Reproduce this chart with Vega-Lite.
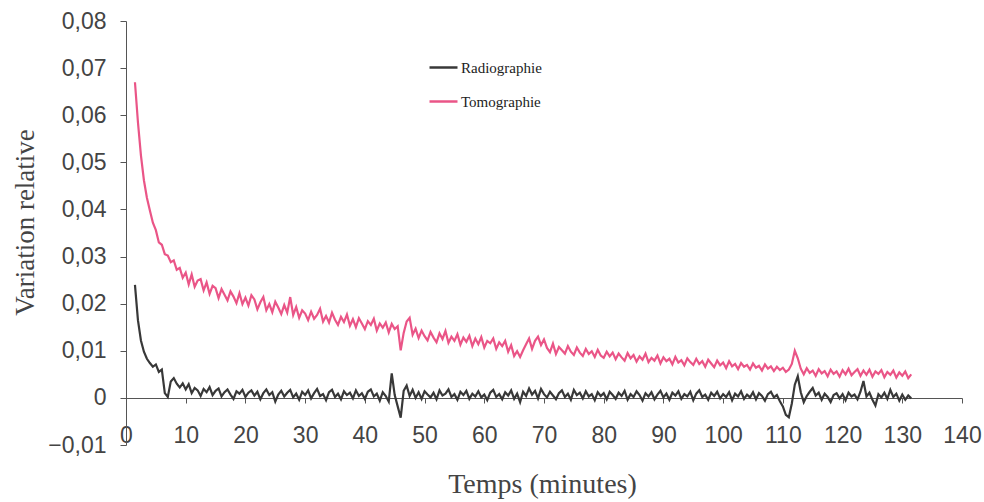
{
  "$schema": "https://vega.github.io/schema/vega-lite/v6.json",
  "width": 836,
  "height": 424,
  "autosize": "none",
  "padding": {"left": 126, "top": 21, "right": 22, "bottom": 57},
  "background": "white",
  "config": {
    "view": {"stroke": null},
    "axis": {"grid": false, "domainColor": "#555", "tickColor": "#555", "labelColor": "#444", "labelFont": "Liberation Sans", "labelFontSize": 23, "titleFont": "Liberation Serif", "titleFontSize": 28, "titleFontWeight": "normal", "titleColor": "#444"}
  },
  "data": {"values": [
{"t":1.5,"Radiographie":0.0240,"Tomographie":0.0670},
{"t":2.0,"Radiographie":0.0165,"Tomographie":0.0585},
{"t":2.5,"Radiographie":0.0122,"Tomographie":0.0515},
{"t":3.0,"Radiographie":0.0098,"Tomographie":0.0462},
{"t":3.5,"Radiographie":0.0083,"Tomographie":0.0425},
{"t":4.0,"Radiographie":0.0074,"Tomographie":0.0398},
{"t":4.5,"Radiographie":0.0066,"Tomographie":0.0372},
{"t":5.0,"Radiographie":0.0071,"Tomographie":0.0356},
{"t":5.5,"Radiographie":0.0055,"Tomographie":0.0330},
{"t":6.0,"Radiographie":0.0060,"Tomographie":0.0325},
{"t":6.5,"Radiographie":0.0010,"Tomographie":0.0305},
{"t":7.0,"Radiographie":0.0002,"Tomographie":0.0302},
{"t":7.5,"Radiographie":0.0035,"Tomographie":0.0288},
{"t":8.0,"Radiographie":0.0042,"Tomographie":0.0292},
{"t":8.5,"Radiographie":0.0030,"Tomographie":0.0272},
{"t":9.0,"Radiographie":0.0022,"Tomographie":0.0276},
{"t":9.5,"Radiographie":0.0031,"Tomographie":0.0255},
{"t":10.0,"Radiographie":0.0018,"Tomographie":0.0266},
{"t":10.5,"Radiographie":0.0029,"Tomographie":0.0241},
{"t":11.0,"Radiographie":0.0010,"Tomographie":0.0262},
{"t":11.5,"Radiographie":0.0021,"Tomographie":0.0236},
{"t":12.0,"Radiographie":0.0016,"Tomographie":0.0249},
{"t":12.5,"Radiographie":0.0004,"Tomographie":0.0252},
{"t":13.0,"Radiographie":0.0019,"Tomographie":0.0228},
{"t":13.5,"Radiographie":0.0012,"Tomographie":0.0245},
{"t":14.0,"Radiographie":0.0023,"Tomographie":0.0221},
{"t":14.5,"Radiographie":0.0006,"Tomographie":0.0238},
{"t":15.0,"Radiographie":0.0015,"Tomographie":0.0233},
{"t":15.5,"Radiographie":0.0020,"Tomographie":0.0212},
{"t":16.0,"Radiographie":0.0003,"Tomographie":0.0231},
{"t":16.5,"Radiographie":0.0012,"Tomographie":0.0219},
{"t":17.0,"Radiographie":0.0018,"Tomographie":0.0207},
{"t":17.5,"Radiographie":0.0007,"Tomographie":0.0226},
{"t":18.0,"Radiographie":-0.0002,"Tomographie":0.0215},
{"t":18.5,"Radiographie":0.0014,"Tomographie":0.0201},
{"t":19.0,"Radiographie":0.0009,"Tomographie":0.0222},
{"t":19.5,"Radiographie":0.0017,"Tomographie":0.0199},
{"t":20.0,"Radiographie":0.0002,"Tomographie":0.0213},
{"t":20.5,"Radiographie":0.0011,"Tomographie":0.0196},
{"t":21.0,"Radiographie":0.0016,"Tomographie":0.0218},
{"t":21.5,"Radiographie":0.0005,"Tomographie":0.0209},
{"t":22.0,"Radiographie":0.0013,"Tomographie":0.0188},
{"t":22.5,"Radiographie":-0.0003,"Tomographie":0.0203},
{"t":23.0,"Radiographie":0.0010,"Tomographie":0.0214},
{"t":23.5,"Radiographie":0.0018,"Tomographie":0.0186},
{"t":24.0,"Radiographie":0.0006,"Tomographie":0.0199},
{"t":24.5,"Radiographie":0.0012,"Tomographie":0.0182},
{"t":25.0,"Radiographie":-0.0008,"Tomographie":0.0204},
{"t":25.5,"Radiographie":0.0007,"Tomographie":0.0192},
{"t":26.0,"Radiographie":0.0015,"Tomographie":0.0178},
{"t":26.5,"Radiographie":0.0003,"Tomographie":0.0197},
{"t":27.0,"Radiographie":0.0011,"Tomographie":0.0181},
{"t":27.5,"Radiographie":0.0017,"Tomographie":0.0214},
{"t":28.0,"Radiographie":0.0001,"Tomographie":0.0176},
{"t":28.5,"Radiographie":0.0009,"Tomographie":0.0193},
{"t":29.0,"Radiographie":-0.0004,"Tomographie":0.0170},
{"t":29.5,"Radiographie":0.0013,"Tomographie":0.0186},
{"t":30.0,"Radiographie":0.0006,"Tomographie":0.0179},
{"t":30.5,"Radiographie":0.0016,"Tomographie":0.0165},
{"t":31.0,"Radiographie":-0.0001,"Tomographie":0.0183},
{"t":31.5,"Radiographie":0.0010,"Tomographie":0.0168},
{"t":32.0,"Radiographie":0.0019,"Tomographie":0.0176},
{"t":32.5,"Radiographie":0.0004,"Tomographie":0.0189},
{"t":33.0,"Radiographie":0.0008,"Tomographie":0.0162},
{"t":33.5,"Radiographie":-0.0005,"Tomographie":0.0174},
{"t":34.0,"Radiographie":0.0012,"Tomographie":0.0160},
{"t":34.5,"Radiographie":0.0017,"Tomographie":0.0181},
{"t":35.0,"Radiographie":0.0002,"Tomographie":0.0166},
{"t":35.5,"Radiographie":0.0009,"Tomographie":0.0155},
{"t":36.0,"Radiographie":-0.0003,"Tomographie":0.0172},
{"t":36.5,"Radiographie":0.0014,"Tomographie":0.0161},
{"t":37.0,"Radiographie":0.0006,"Tomographie":0.0177},
{"t":37.5,"Radiographie":0.0011,"Tomographie":0.0153},
{"t":38.0,"Radiographie":-0.0001,"Tomographie":0.0167},
{"t":38.5,"Radiographie":0.0016,"Tomographie":0.0150},
{"t":39.0,"Radiographie":0.0004,"Tomographie":0.0169},
{"t":39.5,"Radiographie":0.0010,"Tomographie":0.0158},
{"t":40.0,"Radiographie":-0.0002,"Tomographie":0.0146},
{"t":40.5,"Radiographie":0.0013,"Tomographie":0.0163},
{"t":41.0,"Radiographie":0.0018,"Tomographie":0.0155},
{"t":41.5,"Radiographie":0.0003,"Tomographie":0.0168},
{"t":42.0,"Radiographie":0.0009,"Tomographie":0.0143},
{"t":42.5,"Radiographie":-0.0006,"Tomographie":0.0158},
{"t":43.0,"Radiographie":0.0012,"Tomographie":0.0149},
{"t":43.5,"Radiographie":0.0004,"Tomographie":0.0160},
{"t":44.0,"Radiographie":-0.0008,"Tomographie":0.0139},
{"t":44.5,"Radiographie":0.0052,"Tomographie":0.0157},
{"t":45.0,"Radiographie":0.0006,"Tomographie":0.0146},
{"t":45.5,"Radiographie":-0.0018,"Tomographie":0.0152},
{"t":46.0,"Radiographie":-0.0042,"Tomographie":0.0101},
{"t":46.5,"Radiographie":0.0015,"Tomographie":0.0138},
{"t":47.0,"Radiographie":0.0026,"Tomographie":0.0162},
{"t":47.5,"Radiographie":0.0004,"Tomographie":0.0170},
{"t":48.0,"Radiographie":0.0017,"Tomographie":0.0134},
{"t":48.5,"Radiographie":0.0000,"Tomographie":0.0147},
{"t":49.0,"Radiographie":0.0012,"Tomographie":0.0127},
{"t":49.5,"Radiographie":-0.0002,"Tomographie":0.0143},
{"t":50.0,"Radiographie":0.0014,"Tomographie":0.0131},
{"t":50.5,"Radiographie":0.0007,"Tomographie":0.0122},
{"t":51.0,"Radiographie":0.0001,"Tomographie":0.0140},
{"t":51.5,"Radiographie":0.0011,"Tomographie":0.0128},
{"t":52.0,"Radiographie":-0.0003,"Tomographie":0.0118},
{"t":52.5,"Radiographie":0.0016,"Tomographie":0.0137},
{"t":53.0,"Radiographie":0.0005,"Tomographie":0.0125},
{"t":53.5,"Radiographie":0.0009,"Tomographie":0.0142},
{"t":54.0,"Radiographie":0.0018,"Tomographie":0.0117},
{"t":54.5,"Radiographie":0.0002,"Tomographie":0.0130},
{"t":55.0,"Radiographie":0.0008,"Tomographie":0.0121},
{"t":55.5,"Radiographie":-0.0004,"Tomographie":0.0135},
{"t":56.0,"Radiographie":0.0013,"Tomographie":0.0113},
{"t":56.5,"Radiographie":0.0006,"Tomographie":0.0128},
{"t":57.0,"Radiographie":0.0015,"Tomographie":0.0119},
{"t":57.5,"Radiographie":-0.0002,"Tomographie":0.0132},
{"t":58.0,"Radiographie":0.0009,"Tomographie":0.0110},
{"t":58.5,"Radiographie":0.0003,"Tomographie":0.0126},
{"t":59.0,"Radiographie":0.0014,"Tomographie":0.0114},
{"t":59.5,"Radiographie":0.0001,"Tomographie":0.0129},
{"t":60.0,"Radiographie":0.0007,"Tomographie":0.0107},
{"t":60.5,"Radiographie":-0.0005,"Tomographie":0.0121},
{"t":61.0,"Radiographie":0.0011,"Tomographie":0.0116},
{"t":61.5,"Radiographie":0.0017,"Tomographie":0.0126},
{"t":62.0,"Radiographie":0.0002,"Tomographie":0.0104},
{"t":62.5,"Radiographie":0.0008,"Tomographie":0.0118},
{"t":63.0,"Radiographie":-0.0003,"Tomographie":0.0110},
{"t":63.5,"Radiographie":0.0012,"Tomographie":0.0121},
{"t":64.0,"Radiographie":0.0005,"Tomographie":0.0098},
{"t":64.5,"Radiographie":0.0016,"Tomographie":0.0112},
{"t":65.0,"Radiographie":-0.0002,"Tomographie":0.0089},
{"t":65.5,"Radiographie":0.0009,"Tomographie":0.0099},
{"t":66.0,"Radiographie":-0.0009,"Tomographie":0.0087},
{"t":66.5,"Radiographie":0.0013,"Tomographie":0.0101},
{"t":67.0,"Radiographie":0.0004,"Tomographie":0.0114},
{"t":67.5,"Radiographie":0.0020,"Tomographie":0.0126},
{"t":68.0,"Radiographie":0.0007,"Tomographie":0.0104},
{"t":68.5,"Radiographie":0.0015,"Tomographie":0.0121},
{"t":69.0,"Radiographie":-0.0001,"Tomographie":0.0130},
{"t":69.5,"Radiographie":0.0019,"Tomographie":0.0112},
{"t":70.0,"Radiographie":0.0008,"Tomographie":0.0124},
{"t":70.5,"Radiographie":0.0001,"Tomographie":0.0106},
{"t":71.0,"Radiographie":0.0013,"Tomographie":0.0097},
{"t":71.5,"Radiographie":0.0005,"Tomographie":0.0115},
{"t":72.0,"Radiographie":-0.0003,"Tomographie":0.0093},
{"t":72.5,"Radiographie":0.0010,"Tomographie":0.0108},
{"t":73.0,"Radiographie":0.0016,"Tomographie":0.0101},
{"t":73.5,"Radiographie":0.0002,"Tomographie":0.0094},
{"t":74.0,"Radiographie":0.0009,"Tomographie":0.0110},
{"t":74.5,"Radiographie":-0.0004,"Tomographie":0.0098},
{"t":75.0,"Radiographie":0.0017,"Tomographie":0.0091},
{"t":75.5,"Radiographie":0.0006,"Tomographie":0.0107},
{"t":76.0,"Radiographie":0.0011,"Tomographie":0.0096},
{"t":76.5,"Radiographie":-0.0001,"Tomographie":0.0089},
{"t":77.0,"Radiographie":0.0014,"Tomographie":0.0104},
{"t":77.5,"Radiographie":0.0003,"Tomographie":0.0093},
{"t":78.0,"Radiographie":0.0008,"Tomographie":0.0099},
{"t":78.5,"Radiographie":-0.0005,"Tomographie":0.0087},
{"t":79.0,"Radiographie":0.0012,"Tomographie":0.0102},
{"t":79.5,"Radiographie":0.0004,"Tomographie":0.0090},
{"t":80.0,"Radiographie":0.0010,"Tomographie":0.0085},
{"t":80.5,"Radiographie":-0.0003,"Tomographie":0.0098},
{"t":81.0,"Radiographie":0.0013,"Tomographie":0.0088},
{"t":81.5,"Radiographie":0.0006,"Tomographie":0.0096},
{"t":82.0,"Radiographie":-0.0002,"Tomographie":0.0082},
{"t":82.5,"Radiographie":0.0011,"Tomographie":0.0094},
{"t":83.0,"Radiographie":0.0004,"Tomographie":0.0086},
{"t":83.5,"Radiographie":0.0015,"Tomographie":0.0079},
{"t":84.0,"Radiographie":-0.0004,"Tomographie":0.0095},
{"t":84.5,"Radiographie":0.0008,"Tomographie":0.0084},
{"t":85.0,"Radiographie":0.0002,"Tomographie":0.0091},
{"t":85.5,"Radiographie":0.0014,"Tomographie":0.0077},
{"t":86.0,"Radiographie":0.0006,"Tomographie":0.0088},
{"t":86.5,"Radiographie":-0.0006,"Tomographie":0.0081},
{"t":87.0,"Radiographie":0.0010,"Tomographie":0.0094},
{"t":87.5,"Radiographie":0.0003,"Tomographie":0.0076},
{"t":88.0,"Radiographie":0.0012,"Tomographie":0.0085},
{"t":88.5,"Radiographie":-0.0003,"Tomographie":0.0079},
{"t":89.0,"Radiographie":0.0007,"Tomographie":0.0090},
{"t":89.5,"Radiographie":0.0015,"Tomographie":0.0073},
{"t":90.0,"Radiographie":0.0001,"Tomographie":0.0086},
{"t":90.5,"Radiographie":0.0009,"Tomographie":0.0078},
{"t":91.0,"Radiographie":-0.0004,"Tomographie":0.0083},
{"t":91.5,"Radiographie":0.0011,"Tomographie":0.0071},
{"t":92.0,"Radiographie":0.0005,"Tomographie":0.0087},
{"t":92.5,"Radiographie":0.0014,"Tomographie":0.0075},
{"t":93.0,"Radiographie":-0.0002,"Tomographie":0.0080},
{"t":93.5,"Radiographie":0.0008,"Tomographie":0.0069},
{"t":94.0,"Radiographie":0.0003,"Tomographie":0.0084},
{"t":94.5,"Radiographie":0.0013,"Tomographie":0.0076},
{"t":95.0,"Radiographie":-0.0005,"Tomographie":0.0070},
{"t":95.5,"Radiographie":0.0009,"Tomographie":0.0083},
{"t":96.0,"Radiographie":0.0016,"Tomographie":0.0072},
{"t":96.5,"Radiographie":0.0002,"Tomographie":0.0078},
{"t":97.0,"Radiographie":0.0007,"Tomographie":0.0066},
{"t":97.5,"Radiographie":-0.0004,"Tomographie":0.0081},
{"t":98.0,"Radiographie":0.0011,"Tomographie":0.0073},
{"t":98.5,"Radiographie":0.0004,"Tomographie":0.0065},
{"t":99.0,"Radiographie":0.0013,"Tomographie":0.0079},
{"t":99.5,"Radiographie":-0.0001,"Tomographie":0.0069},
{"t":100.0,"Radiographie":0.0008,"Tomographie":0.0075},
{"t":100.5,"Radiographie":0.0002,"Tomographie":0.0063},
{"t":101.0,"Radiographie":0.0012,"Tomographie":0.0078},
{"t":101.5,"Radiographie":-0.0005,"Tomographie":0.0067},
{"t":102.0,"Radiographie":0.0009,"Tomographie":0.0072},
{"t":102.5,"Radiographie":0.0003,"Tomographie":0.0061},
{"t":103.0,"Radiographie":0.0014,"Tomographie":0.0074},
{"t":103.5,"Radiographie":-0.0002,"Tomographie":0.0066},
{"t":104.0,"Radiographie":0.0007,"Tomographie":0.0070},
{"t":104.5,"Radiographie":0.0001,"Tomographie":0.0060},
{"t":105.0,"Radiographie":0.0012,"Tomographie":0.0073},
{"t":105.5,"Radiographie":-0.0003,"Tomographie":0.0064},
{"t":106.0,"Radiographie":0.0010,"Tomographie":0.0068},
{"t":106.5,"Radiographie":0.0004,"Tomographie":0.0058},
{"t":107.0,"Radiographie":-0.0006,"Tomographie":0.0071},
{"t":107.5,"Radiographie":0.0008,"Tomographie":0.0062},
{"t":108.0,"Radiographie":0.0013,"Tomographie":0.0067},
{"t":108.5,"Radiographie":0.0001,"Tomographie":0.0057},
{"t":109.0,"Radiographie":0.0006,"Tomographie":0.0066},
{"t":109.5,"Radiographie":-0.0007,"Tomographie":0.0059},
{"t":110.0,"Radiographie":-0.0018,"Tomographie":0.0064},
{"t":110.5,"Radiographie":-0.0036,"Tomographie":0.0055},
{"t":111.0,"Radiographie":-0.0041,"Tomographie":0.0060},
{"t":111.5,"Radiographie":-0.0012,"Tomographie":0.0072},
{"t":112.0,"Radiographie":0.0028,"Tomographie":0.0100},
{"t":112.5,"Radiographie":0.0046,"Tomographie":0.0084},
{"t":113.0,"Radiographie":0.0012,"Tomographie":0.0062},
{"t":113.5,"Radiographie":-0.0009,"Tomographie":0.0050},
{"t":114.0,"Radiographie":0.0004,"Tomographie":0.0063},
{"t":114.5,"Radiographie":0.0013,"Tomographie":0.0053},
{"t":115.0,"Radiographie":0.0021,"Tomographie":0.0058},
{"t":115.5,"Radiographie":0.0005,"Tomographie":0.0047},
{"t":116.0,"Radiographie":0.0011,"Tomographie":0.0061},
{"t":116.5,"Radiographie":-0.0004,"Tomographie":0.0052},
{"t":117.0,"Radiographie":0.0009,"Tomographie":0.0057},
{"t":117.5,"Radiographie":0.0002,"Tomographie":0.0046},
{"t":118.0,"Radiographie":-0.0009,"Tomographie":0.0060},
{"t":118.5,"Radiographie":0.0006,"Tomographie":0.0051},
{"t":119.0,"Radiographie":0.0010,"Tomographie":0.0056},
{"t":119.5,"Radiographie":-0.0001,"Tomographie":0.0045},
{"t":120.0,"Radiographie":0.0008,"Tomographie":0.0059},
{"t":120.5,"Radiographie":-0.0005,"Tomographie":0.0050},
{"t":121.0,"Radiographie":0.0011,"Tomographie":0.0062},
{"t":121.5,"Radiographie":0.0003,"Tomographie":0.0048},
{"t":122.0,"Radiographie":0.0007,"Tomographie":0.0055},
{"t":122.5,"Radiographie":-0.0003,"Tomographie":0.0061},
{"t":123.0,"Radiographie":0.0013,"Tomographie":0.0047},
{"t":123.5,"Radiographie":0.0036,"Tomographie":0.0058},
{"t":124.0,"Radiographie":0.0003,"Tomographie":0.0049},
{"t":124.5,"Radiographie":0.0011,"Tomographie":0.0060},
{"t":125.0,"Radiographie":-0.0004,"Tomographie":0.0045},
{"t":125.5,"Radiographie":-0.0016,"Tomographie":0.0056},
{"t":126.0,"Radiographie":0.0008,"Tomographie":0.0051},
{"t":126.5,"Radiographie":0.0001,"Tomographie":0.0059},
{"t":127.0,"Radiographie":0.0011,"Tomographie":0.0044},
{"t":127.5,"Radiographie":-0.0002,"Tomographie":0.0055},
{"t":128.0,"Radiographie":0.0017,"Tomographie":0.0049},
{"t":128.5,"Radiographie":0.0002,"Tomographie":0.0058},
{"t":129.0,"Radiographie":0.0009,"Tomographie":0.0043},
{"t":129.5,"Radiographie":-0.0006,"Tomographie":0.0054},
{"t":130.0,"Radiographie":0.0007,"Tomographie":0.0047},
{"t":130.5,"Radiographie":-0.0004,"Tomographie":0.0056},
{"t":131.0,"Radiographie":0.0005,"Tomographie":0.0042},
{"t":131.5,"Radiographie":-0.0001,"Tomographie":0.0050}
  ]},
  "transform": [{"fold": ["Radiographie", "Tomographie"], "as": ["serie", "v"]}],
  "mark": {"type": "line", "strokeWidth": 2.2, "interpolate": "linear"},
  "encoding": {
    "x": {"field": "t", "type": "quantitative",
      "scale": {"domain": [0, 140], "nice": false, "zero": false},
      "axis": {"title": "Temps (minutes)", "values": [0,10,20,30,40,50,60,70,80,90,100,110,120,130,140], "offset": -47, "tickSize": 5, "labelPadding": 21, "labelFlush": false, "titleX": 416, "titleY": 94, "titleBaseline": "alphabetic", "titleAlign": "center"}},
    "y": {"field": "v", "type": "quantitative",
      "scale": {"domain": [-0.01, 0.08], "nice": false, "zero": false},
      "axis": {"title": "Variation relative", "values": [-0.01,0,0.01,0.02,0.03,0.04,0.05,0.06,0.07,0.08], "tickSize": 6, "labelPadding": 14,
        "labelExpr": "datum.value == 0 ? '0' : replace(format(datum.value, '.2f'), '.', ',')",
        "titleX": -93, "titleY": 201, "titleBaseline": "alphabetic", "titleAlign": "center", "titleAngle": -90, "titleFontSize": 27}},
    "color": {"field": "serie", "type": "nominal",
      "scale": {"domain": ["Radiographie", "Tomographie"], "range": ["#383838", "#ea5587"]},
      "legend": {"title": null, "orient": "none", "legendX": 302, "legendY": 31, "padding": 0,
        "symbolType": "stroke", "symbolSize": 784, "symbolStrokeWidth": 2.5,
        "labelFont": "Liberation Serif", "labelFontSize": 15, "labelColor": "#222", "labelOffset": 2, "rowPadding": 10}}
  }
}
